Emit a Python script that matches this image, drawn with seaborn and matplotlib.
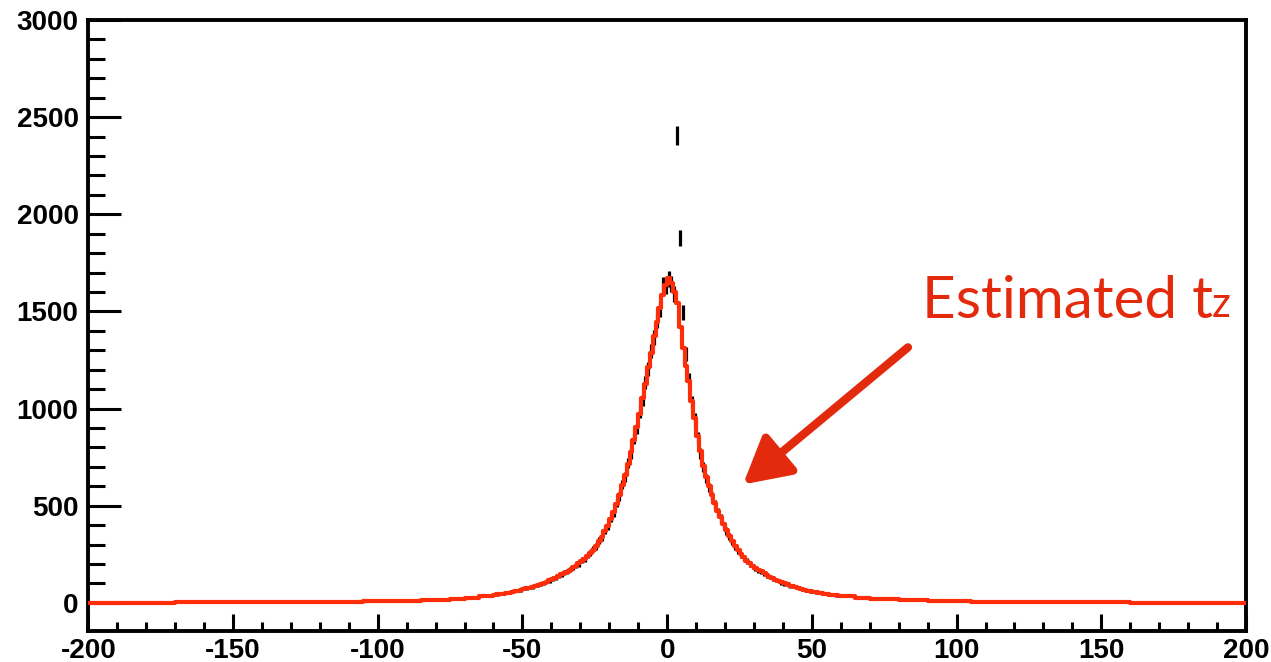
import matplotlib
matplotlib.use('Agg')
import matplotlib.pyplot as plt
import numpy as np
import pandas as pd
import seaborn as sns

red = '#ff2d0a'
txt_red = '#e42a0c'

# nucleo: bins de largura 1 entre -60 e 60
edges_core = np.arange(-60, 61, 1)
estimado_core = [
    41, 43, 45, 48, 51, 53, 57, 60, 63, 67,
    71, 75, 78, 83, 88, 94, 98, 104, 109, 116,
    123, 129, 137, 146, 153, 161, 171, 182, 191, 203,
    216, 228, 241, 258, 274, 292, 316, 339, 368, 397,
    431, 467, 511, 553, 604, 656, 713, 776, 836, 905,
    974, 1052, 1128, 1212, 1288, 1372, 1443, 1518, 1584, 1636,
    1672, 1645, 1598, 1542, 1418, 1312, 1218, 1142, 1038, 952,
    861, 779, 706, 648, 601, 553, 516, 474, 441, 404,
    376, 344, 319, 291, 271, 251, 236, 217, 205, 191,
    181, 169, 162, 151, 144, 134, 128, 119, 114, 105,
    100, 96, 89, 86, 79, 76, 70, 68, 63, 61,
    58, 54, 52, 49, 47, 44, 42, 40, 38, 36,
]
medido_core = [
    40, 44, 46, 47, 52, 54, 56, 61, 64, 66,
    72, 74, 80, 82, 89, 92, 99, 103, 111, 115,
    125, 128, 139, 144, 155, 160, 173, 180, 194, 201,
    219, 226, 244, 255, 277, 290, 319, 336, 372, 394,
    436, 463, 516, 549, 610, 650, 720, 770, 845, 898,
    982, 1045, 1136, 1204, 1296, 1365, 1452, 1510, 1635, 1628,
    1665, 1640, 1590, 2405, 1878, 1493, 1283, 1150, 1030, 945,
    852, 770, 698, 640, 594, 546, 508, 468, 434, 398,
    370, 340, 313, 287, 266, 247, 231, 214, 200, 188,
    178, 167, 159, 149, 141, 132, 126, 117, 112, 104,
    99, 94, 88, 85, 78, 75, 69, 67, 62, 60,
    57, 53, 51, 48, 46, 43, 41, 39, 37, 35,
]

# caudas: bins de largura 5
edges_esq = np.arange(-200, -59, 5)
estimado_esq = [1, 1, 1, 1, 1, 1, 2, 2, 2, 2, 2, 3, 3, 3,
                4, 4, 5, 5, 6, 7, 8, 9, 11, 13, 16, 20, 26, 34]
edges_dir = np.arange(60, 201, 5)
estimado_dir = [33, 27, 22, 18, 15, 12, 10, 8, 7, 6, 5, 4, 4, 3,
                3, 3, 2, 2, 2, 2, 1, 1, 1, 1, 1, 1, 1, 1]

edges = np.concatenate([edges_esq[:-1], edges_core[:-1], edges_dir])
estimado = np.array(estimado_esq + estimado_core + estimado_dir, dtype=float)
df = pd.DataFrame({'t': (edges[:-1] + edges[1:]) / 2, 'n': estimado})

centros_core = (edges_core[:-1] + edges_core[1:]) / 2
medido = np.array(medido_core, dtype=float)

sns.set_style('ticks')
plt.rcParams['font.family'] = ['Liberation Sans', 'DejaVu Sans']
plt.rcParams['axes.unicode_minus'] = False

fig = plt.figure(figsize=(12.71, 6.62), dpi=100)
ax = fig.add_axes([88.3 / 1271, 1 - 631 / 662, (1246 - 88.3) / 1271, (631 - 20) / 662])

ax.errorbar(centros_core, medido, yerr=np.sqrt(medido), fmt='none',
            ecolor='black', elinewidth=2.3, capsize=0, zorder=2)
sns.histplot(data=df, x='t', weights='n', bins=list(edges), element='step',
             fill=False, color=red, linewidth=3.0, ax=ax, zorder=3)

ax.set_xlim(-200, 200)
ax.set_ylim(-145, 3000)
ax.set_xlabel('')
ax.set_ylabel('')
ax.set_xticks(np.arange(-200, 201, 50))
ax.set_yticks(np.arange(0, 3001, 500))
ax.set_xticks(np.arange(-200, 201, 10), minor=True)
ax.set_yticks(np.arange(0, 3001, 100), minor=True)

for s in ax.spines.values():
    s.set_linewidth(2.8)
    s.set_color('black')

ax.tick_params(axis='both', which='both', direction='in', width=2.2,
               colors='black', top=False, right=False)
ax.tick_params(axis='x', which='major', length=12.5, pad=5)
ax.tick_params(axis='x', which='minor', length=6.5)
ax.tick_params(axis='y', which='major', length=24, pad=7)
ax.tick_params(axis='y', which='minor', length=12)
for lab in ax.get_xticklabels() + ax.get_yticklabels():
    lab.set_fontsize(20)
    lab.set_fontweight('bold')

t1 = ax.text(88.0, 1464, 'Estimated t', color=txt_red, fontsize=42,
             family=['Lato', 'DejaVu Sans'], ha='left', va='baseline')
ax.annotate('z', xy=(1, 0), xycoords=t1, xytext=(-1, 3), textcoords='offset points',
            color=txt_red, fontsize=30, family=['Lato', 'DejaVu Sans'],
            ha='left', va='bottom')

ax.annotate('', xy=(26.2, 609), xytext=(83.2, 1315),
            arrowprops=dict(arrowstyle='-|>,head_length=0.4,head_width=0.22',
                            color=txt_red, lw=6, mutation_scale=70,
                            shrinkA=0, shrinkB=0))

fig.savefig('out.png', dpi=100)
